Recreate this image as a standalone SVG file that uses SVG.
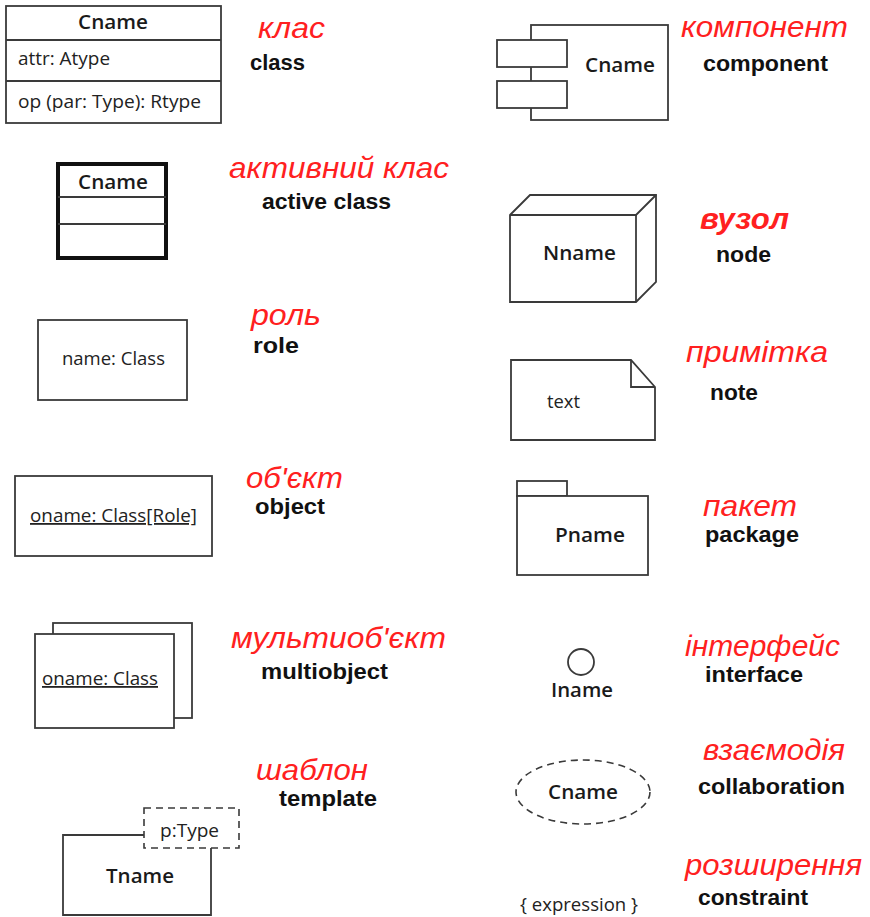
<svg xmlns="http://www.w3.org/2000/svg" width="870" height="917" viewBox="0 0 870 917">
  <style>
    .shape { fill: #ffffff; stroke: #3a3a3a; stroke-width: 1.8; }
    .line { fill: none; stroke: #3a3a3a; stroke-width: 1.8; }
    .dash { fill: none; stroke: #3a3a3a; stroke-width: 1.6; stroke-dasharray: 7 5; }
    .t { font-family: "Open Sans", "Noto Sans", sans-serif; fill: #222; font-size: 18px; }
    .tb { font-family: "Open Sans", "Noto Sans", sans-serif; fill: #1a1a1a; font-size: 20px; font-weight: 600; }
    .ru { font-family: "Liberation Sans", Arial, sans-serif; font-style: italic; fill: #ff2020; font-size: 29px; }
    .en { font-family: "Liberation Sans", Arial, sans-serif; font-weight: bold; fill: #111; font-size: 21.5px; }
  </style>

  <!-- class -->
  <g id="class">
    <rect class="shape" x="6" y="6" width="215" height="117"/>
    <line class="line" x1="6" y1="40" x2="221" y2="40"/>
    <line class="line" x1="6" y1="81" x2="221" y2="81"/>
    <text class="tb" x="78" y="29" textLength="70" lengthAdjust="spacingAndGlyphs">Cname</text>
    <text class="t" x="18" y="65" textLength="92" lengthAdjust="spacingAndGlyphs">attr: Atype</text>
    <text class="t" x="18" y="108" textLength="183" lengthAdjust="spacingAndGlyphs">op (par: Type): Rtype</text>
    <text class="ru" x="258" y="38" textLength="67" lengthAdjust="spacingAndGlyphs">клас</text>
    <text class="en" x="250" y="70" textLength="55" lengthAdjust="spacingAndGlyphs">class</text>
  </g>

  <!-- active class -->
  <g id="active-class">
    <rect x="58" y="164" width="108" height="94" fill="#fff" stroke="#111" stroke-width="4"/>
    <line class="line" x1="58" y1="197" x2="166" y2="197"/>
    <line class="line" x1="58" y1="224" x2="166" y2="224"/>
    <text class="tb" x="78" y="189" textLength="70" lengthAdjust="spacingAndGlyphs">Cname</text>
    <text class="ru" x="229" y="178" textLength="220" lengthAdjust="spacingAndGlyphs">активний клас</text>
    <text class="en" x="262" y="209" textLength="129" lengthAdjust="spacingAndGlyphs">active class</text>
  </g>

  <!-- role -->
  <g id="role">
    <rect class="shape" x="38" y="320" width="149" height="80"/>
    <text class="t" x="62" y="365" textLength="103" lengthAdjust="spacingAndGlyphs">name: Class</text>
    <text class="ru" x="251" y="325" textLength="70" lengthAdjust="spacingAndGlyphs">роль</text>
    <text class="en" x="253" y="353" textLength="46" lengthAdjust="spacingAndGlyphs">role</text>
  </g>

  <!-- object -->
  <g id="object">
    <rect class="shape" x="15" y="476" width="197" height="80"/>
    <text class="t" x="30" y="522" textLength="167" lengthAdjust="spacingAndGlyphs" text-decoration="underline">oname: Class[Role]</text>
    <text class="ru" x="246" y="488" textLength="97" lengthAdjust="spacingAndGlyphs">об'єкт</text>
    <text class="en" x="255" y="514" textLength="70" lengthAdjust="spacingAndGlyphs">object</text>
  </g>

  <!-- multiobject -->
  <g id="multiobject">
    <rect class="shape" x="53" y="623" width="139" height="95"/>
    <rect class="shape" x="35" y="634" width="139" height="94"/>
    <text class="t" x="42" y="685" textLength="116" lengthAdjust="spacingAndGlyphs" text-decoration="underline">oname: Class</text>
    <text class="ru" x="231" y="648" textLength="215" lengthAdjust="spacingAndGlyphs">мультиоб'єкт</text>
    <text class="en" x="261" y="679" textLength="127" lengthAdjust="spacingAndGlyphs">multiobject</text>
  </g>

  <!-- template -->
  <g id="template">
    <polyline class="line" points="144,835 63,835 63,915 211,915 211,848"/>
    <rect class="dash" x="144" y="808" width="95" height="40"/>
    <text class="t" x="160" y="837" fill="#555" font-size="17" textLength="59" lengthAdjust="spacingAndGlyphs">p:Type</text>
    <text class="tb" x="106" y="883" textLength="68" lengthAdjust="spacingAndGlyphs">Tname</text>
    <text class="ru" x="256" y="780" textLength="112" lengthAdjust="spacingAndGlyphs">шаблон</text>
    <text class="en" x="279" y="806" textLength="98" lengthAdjust="spacingAndGlyphs">template</text>
  </g>

  <!-- component -->
  <g id="component">
    <rect class="shape" x="531" y="25" width="137" height="95"/>
    <rect class="shape" x="497" y="40" width="70" height="27"/>
    <rect class="shape" x="497" y="81" width="70" height="27"/>
    <text class="tb" x="585" y="72" textLength="70" lengthAdjust="spacingAndGlyphs">Cname</text>
    <text class="ru" x="681" y="37" textLength="167" lengthAdjust="spacingAndGlyphs">компонент</text>
    <text class="en" x="703" y="71" textLength="125" lengthAdjust="spacingAndGlyphs">component</text>
  </g>

  <!-- node -->
  <g id="node">
    <polygon class="shape" points="510,215 530,195 656,195 656,282 636,302 510,302"/>
    <polyline class="line" points="510,215 636,215 656,195"/>
    <line class="line" x1="636" y1="215" x2="636" y2="302"/>
    <text class="tb" x="543" y="260" textLength="73" lengthAdjust="spacingAndGlyphs">Nname</text>
    <text class="ru" x="700" y="229" font-weight="bold" textLength="89" lengthAdjust="spacingAndGlyphs">вузол</text>
    <text class="en" x="716" y="262" textLength="55" lengthAdjust="spacingAndGlyphs">node</text>
  </g>

  <!-- note -->
  <g id="note">
    <polygon class="shape" points="511,360 631,360 655,387 655,440 511,440"/>
    <polyline class="line" points="631,360 631,387 655,387"/>
    <text class="t" x="547" y="408" textLength="33" lengthAdjust="spacingAndGlyphs">text</text>
    <text class="ru" x="686" y="362" textLength="142" lengthAdjust="spacingAndGlyphs">примітка</text>
    <text class="en" x="710" y="400" textLength="48" lengthAdjust="spacingAndGlyphs">note</text>
  </g>

  <!-- package -->
  <g id="package">
    <rect class="shape" x="517" y="481" width="50" height="15"/>
    <rect class="shape" x="517" y="496" width="131" height="79"/>
    <text class="tb" x="555" y="542" textLength="70" lengthAdjust="spacingAndGlyphs">Pname</text>
    <text class="ru" x="703" y="516" textLength="94" lengthAdjust="spacingAndGlyphs">пакет</text>
    <text class="en" x="705" y="542" textLength="94" lengthAdjust="spacingAndGlyphs">package</text>
  </g>

  <!-- interface -->
  <g id="interface">
    <circle class="shape" cx="581" cy="662" r="13"/>
    <text class="tb" x="551" y="697" textLength="62" lengthAdjust="spacingAndGlyphs">Iname</text>
    <text class="ru" x="685" y="656" textLength="155" lengthAdjust="spacingAndGlyphs">інтерфейс</text>
    <text class="en" x="705" y="682" textLength="98" lengthAdjust="spacingAndGlyphs">interface</text>
  </g>

  <!-- collaboration -->
  <g id="collaboration">
    <ellipse class="dash" cx="583" cy="792" rx="67" ry="32"/>
    <text class="tb" x="548" y="799" textLength="70" lengthAdjust="spacingAndGlyphs">Cname</text>
    <text class="ru" x="703" y="760" textLength="142" lengthAdjust="spacingAndGlyphs">взаємодія</text>
    <text class="en" x="698" y="794" textLength="147" lengthAdjust="spacingAndGlyphs">collaboration</text>
  </g>

  <!-- constraint -->
  <g id="constraint">
    <text class="t" x="520" y="911" fill="#444" font-size="17" textLength="118" lengthAdjust="spacingAndGlyphs">{ expression }</text>
    <text class="ru" x="685" y="875" textLength="177" lengthAdjust="spacingAndGlyphs">розширення</text>
    <text class="en" x="698" y="905" textLength="110" lengthAdjust="spacingAndGlyphs">constraint</text>
  </g>
</svg>
